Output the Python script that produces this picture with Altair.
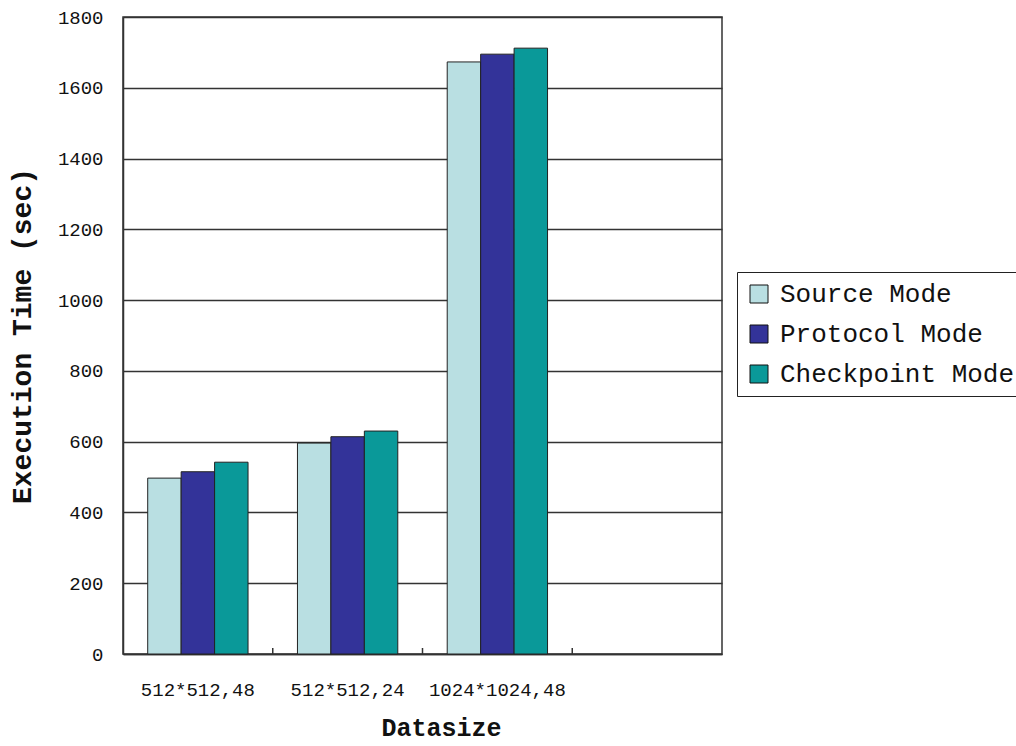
import altair as alt
import pandas as pd

# Dataset sizes (the fourth slot on the axis is left empty)
categories = ["512*512,48", "512*512,24", "1024*1024,48"]
axis_slots = categories + [" "]
modes = ["Source Mode", "Protocol Mode", "Checkpoint Mode"]
mode_colors = ["#b9dfe2", "#333399", "#0a9999"]

# Execution time in seconds for each mode
source_mode = [497, 596, 1673]
protocol_mode = [515, 614, 1695]
checkpoint_mode = [542, 630, 1712]

y_ticks = list(range(0, 1801, 200))

rows = []
for mode, values in zip(modes, [source_mode, protocol_mode, checkpoint_mode]):
    for cat, v in zip(categories, values):
        rows.append({"Datasize": cat, "Mode": mode, "Time": v})
df = pd.DataFrame(rows)

ticks_df = pd.DataFrame({"Datasize": axis_slots[1:]})

FONT = "Liberation Mono"
W, H = 599, 637

x_scale = alt.Scale(domain=axis_slots, paddingInner=0.33, paddingOuter=0.165)

bars = alt.Chart(df).mark_bar(stroke="#222222", strokeWidth=1).encode(
    x=alt.X(
        "Datasize:N",
        scale=x_scale,
        sort=axis_slots,
        axis=alt.Axis(
            title="Datasize",
            labelAngle=0,
            labelFont=FONT,
            labelFontSize=19,
            labelColor="#111111",
            labelPadding=26,
            ticks=False,
            domainColor="#333333",
            domainWidth=1.5,
            titleFont=FONT,
            titleFontSize=25,
            titleFontWeight="bold",
            titleColor="#111111",
            titleX=318,
            titleY=73,
            titleAlign="center",
            titleBaseline="middle",
        ),
    ),
    xOffset=alt.XOffset("Mode:N", sort=modes, scale=alt.Scale(domain=modes, paddingInner=0, paddingOuter=0)),
    y=alt.Y(
        "Time:Q",
        scale=alt.Scale(domain=[0, 1800], nice=False),
        axis=alt.Axis(
            title="Execution Time (sec)",
            values=y_ticks,
            format="d",
            grid=True,
            gridColor="#333333",
            gridWidth=1.4,
            ticks=False,
            labelFont=FONT,
            labelFontSize=19,
            labelColor="#111111",
            labelPadding=20,
            domainColor="#333333",
            domainWidth=1.5,
            titleFont=FONT,
            titleFontSize=28,
            titleFontWeight="bold",
            titleColor="#111111",
            titleAngle=270,
            titleX=-101,
            titleY=H / 2,
            titleAlign="center",
            titleBaseline="middle",
        ),
    ),
    color=alt.Color(
        "Mode:N",
        sort=modes,
        scale=alt.Scale(domain=modes, range=mode_colors),
        legend=alt.Legend(
            title=None,
            orient="none",
            legendX=614,
            legendY=255,
            symbolType="square",
            symbolSize=324,
            symbolStrokeColor="#111111",
            symbolStrokeWidth=1,
            labelFont=FONT,
            labelFontSize=26,
            labelColor="#111111",
            labelOffset=8,
            rowPadding=14,
            padding=9,
            strokeColor="#222222",
            fillColor="white",
            cornerRadius=0,
            labelLimit=400,
        ),
    ),
)

# Small inward tick marks at the boundaries between category slots
tick_marks = alt.Chart(ticks_df).mark_rule(color="#333333", strokeWidth=1.5).encode(
    x=alt.X(
        "Datasize:N",
        scale=alt.Scale(domain=axis_slots, paddingInner=0, paddingOuter=0),
        sort=axis_slots,
        bandPosition=0,
        axis=None,
    ),
    y=alt.value(H - 6),
    y2=alt.value(H),
)

chart = (
    alt.layer(bars, tick_marks)
    .resolve_scale(x="independent")
    .properties(
        width=W,
        height=H,
        autosize=alt.AutoSizeParams(type="none"),
        padding={"left": 123, "top": 17, "right": 294, "bottom": 92},
        background="white",
    )
    .configure_view(stroke="#333333", strokeWidth=1.5)
)

chart.save("out.html", embed_options={"renderer": "svg", "actions": False})
